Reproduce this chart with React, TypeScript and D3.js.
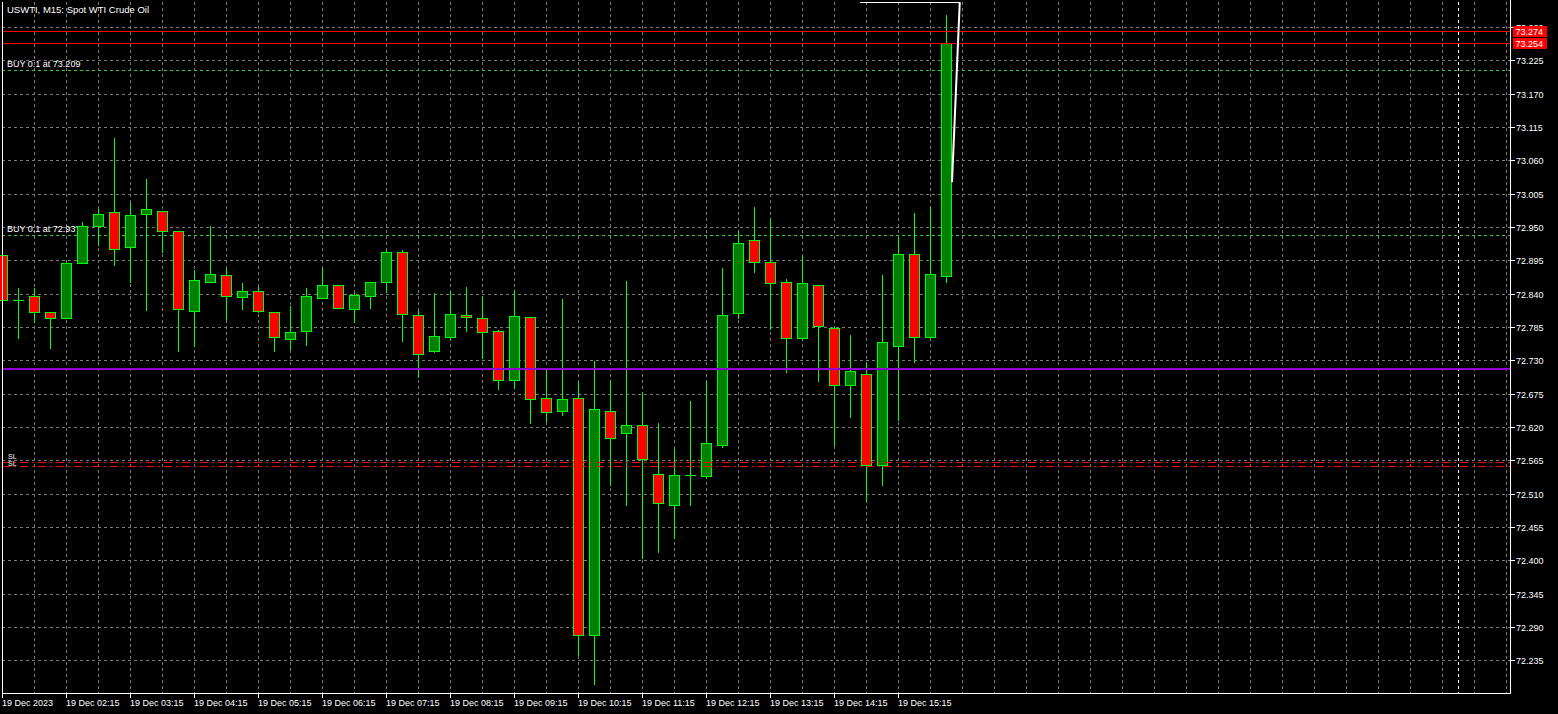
import React from "react";
import * as d3 from "d3";

const W = 1558;
const H = 714;

// candle OHLC (15 min bars)
const OPEN = [72.903,72.829,72.836,72.809,72.799,72.890,72.951,72.974,72.917,72.971,72.976,72.943,72.812,72.860,72.870,72.834,72.844,72.809,72.765,72.778,72.832,72.854,72.814,72.836,72.859,72.908,72.804,72.745,72.768,72.804,72.799,72.778,72.697,72.801,72.667,72.646,72.667,72.276,72.646,72.610,72.624,72.542,72.492,72.540,72.539,72.590,72.808,72.928,72.893,72.859,72.766,72.854,72.784,72.690,72.707,72.557,72.753,72.905,72.768,72.869];
const HIGH = [72.907,72.851,72.851,72.809,72.891,72.960,72.982,73.098,72.992,73.030,72.977,72.943,72.880,72.953,72.883,72.859,72.853,72.809,72.822,72.851,72.884,72.854,72.843,72.859,72.914,72.914,72.813,72.843,72.846,72.853,72.838,72.781,72.848,72.801,72.719,72.833,72.696,72.731,72.699,72.863,72.679,72.628,72.586,72.665,72.698,72.884,72.945,72.985,72.966,72.865,72.904,72.854,72.789,72.773,72.727,72.872,72.935,72.975,72.985,73.301];
const LOW = [72.826,72.767,72.793,72.751,72.799,72.890,72.920,72.888,72.860,72.813,72.908,72.745,72.754,72.860,72.797,72.815,72.810,72.746,72.748,72.756,72.832,72.816,72.793,72.817,72.842,72.762,72.703,72.743,72.765,72.779,72.733,72.682,72.684,72.627,72.630,72.639,72.244,72.196,72.525,72.492,72.403,72.414,72.436,72.492,72.535,72.587,72.800,72.875,72.781,72.710,72.763,72.696,72.591,72.637,72.498,72.525,72.632,72.728,72.768,72.860];
const CLOSE = [72.829,72.829,72.809,72.799,72.890,72.951,72.971,72.913,72.969,72.979,72.943,72.814,72.862,72.872,72.836,72.844,72.811,72.768,72.776,72.836,72.855,72.816,72.837,72.859,72.908,72.806,72.740,72.770,72.806,72.801,72.776,72.697,72.803,72.666,72.644,72.666,72.276,72.649,72.601,72.624,72.567,72.494,72.540,72.540,72.593,72.804,72.923,72.893,72.857,72.766,72.857,72.786,72.689,72.712,72.558,72.761,72.905,72.768,72.872,73.254];

const PRICE_TICKS = [73.280,73.225,73.170,73.115,73.060,73.005,72.950,72.895,72.840,72.785,72.730,72.675,72.620,72.565,72.510,72.455,72.400,72.345,72.290,72.235];
const TIME_LABELS = ["19 Dec 2023","19 Dec 02:15","19 Dec 03:15","19 Dec 04:15","19 Dec 05:15","19 Dec 06:15","19 Dec 07:15","19 Dec 08:15","19 Dec 09:15","19 Dec 10:15","19 Dec 11:15","19 Dec 12:15","19 Dec 13:15","19 Dec 14:15","19 Dec 15:15"];

const TITLE = "USWTI, M15:  Spot WTI Crude Oil";
const ASK = 73.274;
const BID = 73.254;
const BUY_LEVELS = [73.209, 72.937];
const BUY_TEXTS = ["BUY 0.1 at 73.209", "BUY 0.1 at 72.937"];
const PURPLE_LEVEL = 72.7155;
const SL_LEVELS = [72.563, 72.555];
const TREND_IDX = [59.375, 59.86];
const TREND_VAL = [73.024, 73.321];
const SEPARATOR_IDX = 91;

const FONT = "'Liberation Sans', Arial, sans-serif";

export default function App() {
  const left = 2, right = 1510, top = 2, bottom = 693;
  const x = d3.scaleLinear().domain([0, 1]).range([2, 18]);
  const y = d3.scaleLinear().domain([72.235, 73.225]).range([660.3, 60.3]);
  const py = (v: number) => Math.round(y(v)) + 0.5;
  const px = (i: number) => Math.round(x(i)) + 0.5;

  const vGrid = d3.range(2, 95, 2);
  const timeIdx = TIME_LABELS.map((_, k) => k * 4);
  const trendLine = d3.line<number>().x((_, i) => x(TREND_IDX[i])).y((v) => y(v));

  return (
    <svg width={W} height={H} style={{ position: "absolute", left: 0, top: 0, display: "block", background: "#000" }} fontFamily={FONT} shapeRendering="crispEdges">
      <rect x={0} y={0} width={W} height={H} fill="#000" />
      {/* grid */}
      {PRICE_TICKS.map((v) => (
        <line key={"hg" + v} x1={left} x2={right} y1={py(v)} y2={py(v)} stroke="#7a7a7a" strokeDasharray="3,3" />
      ))}
      {vGrid.map((i) => (
        <line key={"vg" + i} x1={px(i)} x2={px(i)} y1={top} y2={bottom} stroke="#7a7a7a" strokeDasharray="3,3" />
      ))}
      <line x1={px(SEPARATOR_IDX)} x2={px(SEPARATOR_IDX)} y1={top} y2={bottom} stroke="#fff" strokeDasharray="3,3" />
      {/* buy lines */}
      {BUY_LEVELS.map((v) => (
        <line key={"b" + v} x1={left} x2={right} y1={py(v)} y2={py(v)} stroke="#3cc83c" strokeDasharray="3,3" />
      ))}
      {BUY_LEVELS.map((v, i) => (
        <text key={"bt" + v} x={7} y={py(v) - 4} fill="#fff" fontSize={9}>{BUY_TEXTS[i]}</text>
      ))}
      {/* candles */}
      {OPEN.map((o, i) => {
        const c = CLOSE[i];
        const cx = px(i);
        const t = Math.round(y(Math.max(o, c)));
        const b = Math.round(y(Math.min(o, c)));
        const doji = b - t < 1;
        return (
          <g key={"c" + i}>
            <line x1={cx} x2={cx} y1={py(HIGH[i])} y2={py(LOW[i])} stroke="#00ff00" />
            {doji ? (
              <line x1={cx - 5.5} x2={cx + 5.5} y1={t + 0.5} y2={t + 0.5} stroke="#00ff00" />
            ) : (
              <rect x={cx - 5} y={t + 0.5} width={10} height={b - t} fill={c >= o ? "#008000" : "#ff0000"} stroke="#00ff00" />
            )}
          </g>
        );
      })}
      {/* levels drawn on top */}
      <line x1={left} x2={right} y1={Math.round(y(PURPLE_LEVEL))} y2={Math.round(y(PURPLE_LEVEL))} stroke="#9400d3" strokeWidth={2} />
      {SL_LEVELS.map((v) => (
        <line key={"sl" + v} x1={left} x2={right} y1={py(v)} y2={py(v)} stroke="#ff0000" strokeDasharray="8,4,2,4" />
      ))}
      <text x={8} y={py(SL_LEVELS[0]) - 4} fill="#fff" fontSize={7}>SL</text>
      <text x={8} y={py(SL_LEVELS[1]) - 1} fill="#fff" fontSize={7}>SL</text>
      <line x1={left} x2={right} y1={py(ASK)} y2={py(ASK)} stroke="#ff0000" />
      <line x1={left} x2={right} y1={py(BID)} y2={py(BID)} stroke="#ff0000" />
      <path d={trendLine(TREND_VAL) || ""} stroke="#fff" strokeWidth={2} fill="none" shapeRendering="auto" />
      <line x1={860} x2={x(TREND_IDX[1])} y1={2.5} y2={2.5} stroke="#fff" />
      {/* title */}
      <text x={7} y={13} fill="#fff" fontSize={9.5}>{TITLE}</text>
      {/* frame */}
      <line x1={left + 0.5} x2={left + 0.5} y1={top} y2={bottom + 1} stroke="#fff" />
      <line x1={right + 0.5} x2={right + 0.5} y1={0} y2={bottom + 1} stroke="#fff" />
      <line x1={left} x2={right + 1} y1={bottom + 0.5} y2={bottom + 0.5} stroke="#fff" />
      {/* price axis */}
      {PRICE_TICKS.map((v) => (
        <g key={"pt" + v}>
          <line x1={right} x2={right + 5} y1={py(v)} y2={py(v)} stroke="#fff" />
          <text x={right + 6} y={py(v)} dy="0.35em" fill="#fff" fontSize={9}>{v.toFixed(3)}</text>
        </g>
      ))}
      {[ASK, BID].map((v) => (
        <g key={"lab" + v}>
          <rect x={1513} y={py(v) - 5.5} width={34} height={11} fill="#ff0000" />
          <text x={1515.5} y={py(v)} dy="0.35em" fill="#fff" fontSize={9}>{v.toFixed(3)}</text>
        </g>
      ))}
      {/* time axis */}
      {timeIdx.map((i, k) => (
        <g key={"tt" + i}>
          <line x1={px(i)} x2={px(i)} y1={bottom} y2={bottom + 5} stroke="#fff" />
          <text x={px(i) - 0.5} y={706} fill="#fff" fontSize={9}>{TIME_LABELS[k]}</text>
        </g>
      ))}
    </svg>
  );
}
